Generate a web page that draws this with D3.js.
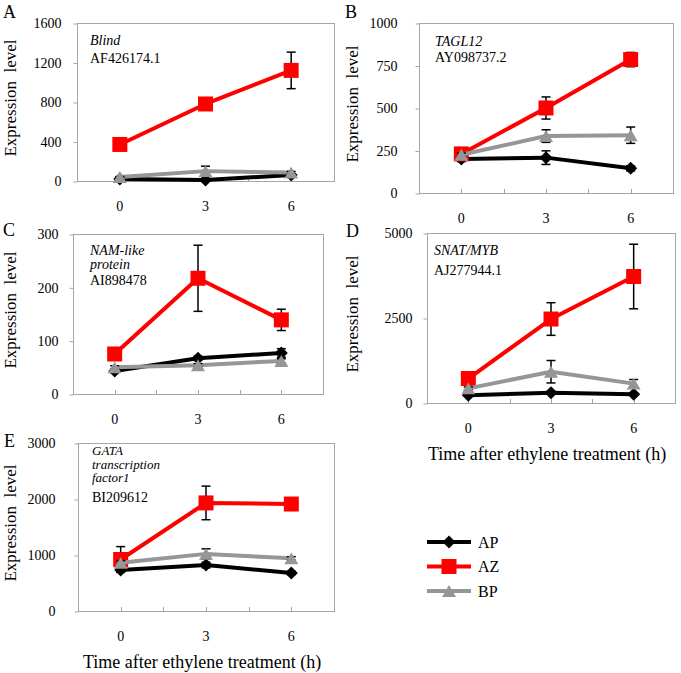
<!DOCTYPE html>
<html>
<head>
<meta charset="utf-8">
<script src="https://cdn.jsdelivr.net/npm/d3@7"></script>
<style>
body { margin: 0; background: #fff; }
svg { font-family: "Liberation Serif", "Times New Roman", serif; }
</style>
</head>
<body>
<script>
const times = ["0", "3", "6"];
const seriesNames = ["AP", "AZ", "BP"];
const seriesColours = ["#000000", "#ff0000", "#969696"];

// rows: AP, AZ, BP ; columns: 0, 3, 6 h
const meanA = [[20, 10, 60], [370, 780, 1120], [40, 100, 85]];
const errA = [[5, 5, 10], [10, 15, 185], [5, 50, 12]];
const ticksA = [0, 400, 800, 1200, 1600];

const meanB = [[200, 208, 145], [230, 500, 785], [225, 335, 340]];
const errB = [[15, 40, 15], [30, 65, 42], [10, 37, 48]];
const ticksB = [0, 250, 500, 750, 1000];

const meanC = [[43, 67, 77], [75, 217, 139], [50, 54, 62]];
const errC = [[3, 4, 8], [4, 62, 20], [3, 3, 4]];
const ticksC = [0, 100, 200, 300];

const meanD = [[230, 300, 260], [720, 2470, 3720], [430, 920, 570]];
const errD = [[30, 40, 30], [60, 480, 950], [40, 330, 120]];
const ticksD = [0, 2500, 5000];

const meanE = [[730, 820, 680], [920, 1930, 1910], [860, 1020, 940]];
const errE = [[30, 50, 30], [230, 300, 70], [40, 90, 30]];
const ticksE = [0, 1000, 2000, 3000];

const panels = [
	{ letter: "A", italic: ["Blind"], acc: "AF426174.1", mean: meanA, err: errA, ticks: ticksA,
		box: [77, 23, 334, 181], pad: 12, label: [3, 18], yTitleX: 16, gene: [90, 45, 18, 63, 14], xTitle: false },
	{ letter: "B", italic: ["TAGL12"], acc: "AY098737.2", mean: meanB, err: errB, ticks: ticksB,
		box: [419, 23, 673, 193], pad: 18, label: [345, 18], yTitleX: 358, gene: [435, 46, 16, 62, 14], xTitle: false },
	{ letter: "C", italic: ["NAM-like", "protein"], acc: "AI898478", mean: meanC, err: errC, ticks: ticksC,
		box: [73, 234, 323, 394], pad: 11, label: [3, 236], yTitleX: 16, gene: [90, 255, 14, 285, 14], xTitle: false },
	{ letter: "D", italic: ["SNAT/MYB"], acc: "AJ277944.1", mean: meanD, err: errD, ticks: ticksD,
		box: [427, 233, 675, 403], pad: 11, label: [346, 237], yTitleX: 358, gene: [434, 255, 19, 275, 14], xTitle: true },
	{ letter: "E", italic: ["GATA", "transcription", "factor1"], acc: "BI209612", mean: meanE, err: errE, ticks: ticksE,
		box: [78, 443, 334, 611], pad: 19, label: [4, 447], yTitleX: 16, gene: [92, 455, 13.5, 502, 13], xTitle: true }
];

const width = 681, height = 673;
const serif = "Liberation Serif, Times New Roman, serif";

const svg = d3.select("body").append("svg")
	.attr("width", width)
	.attr("height", height);

// marker shapes like the spreadsheet ones
const diamond = { draw(ctx, size) { const r = Math.sqrt(size) / 2; ctx.moveTo(0, -r); ctx.lineTo(r, 0); ctx.lineTo(0, r); ctx.lineTo(-r, 0); ctx.closePath(); } };
const square = { draw(ctx, size) { const r = Math.sqrt(size) / 2; ctx.rect(-r, -r, 2 * r, 2 * r); } };
const triangle = { draw(ctx, size) { const r = Math.sqrt(size) / 2; ctx.moveTo(0, -r * 0.85); ctx.lineTo(r, r * 0.85); ctx.lineTo(-r, r * 0.85); ctx.closePath(); } };
const markers = [
	d3.symbol().type(diamond).size(13 * 13),
	d3.symbol().type(square).size(15 * 15),
	d3.symbol().type(triangle).size(14 * 14)
];

function drawPanel(p) {
	const [x0, y0, x1, y1] = p.box;

	const x = d3.scaleBand()
		.domain(times)
		.range([x0, x1]);

	const y = d3.scaleLinear()
		.domain([0, d3.max(p.ticks)])
		.range([y1, y0]);

	const g = svg.append("g");

	g.append("rect")
		.attr("x", x0 + 0.5)
		.attr("y", y0 + 0.5)
		.attr("width", x1 - x0)
		.attr("height", y1 - y0)
		.attr("fill", "none")
		.attr("stroke", "#a6a6a6");

	// y axis
	const yAxis = g.append("g")
		.attr("transform", `translate(${x0 + 0.5},0.5)`)
		.call(d3.axisLeft(y).tickValues(p.ticks).tickSize(4).tickPadding(p.pad).tickFormat(d3.format("d")));
	yAxis.attr("font-family", serif);
	yAxis.select(".domain").remove();
	yAxis.selectAll("line").attr("stroke", "#a6a6a6");
	yAxis.selectAll("text")
		.attr("font-size", 14)
		.attr("fill", "#000");

	// x axis, inner ticks at categories and between them
	const xAxis = g.append("g")
		.attr("transform", `translate(0,${y1 + 0.5})`)
		.call(d3.axisBottom(x).tickSize(0).tickPadding(20));
	xAxis.attr("font-family", serif);
	xAxis.select(".domain").remove();
	xAxis.selectAll("text")
		.attr("font-size", 14)
		.attr("fill", "#000");

	const tickPos = [];
	times.forEach((t, i) => {
		tickPos.push(x(t) + x.bandwidth() / 2);
		if (i > 0) tickPos.push(x(t));
	});
	g.selectAll("line.xt")
		.data(tickPos)
		.enter()
		.append("line")
		.attr("class", "xt")
		.attr("stroke", "#a6a6a6")
		.attr("x1", d => Math.round(d) + 0.5)
		.attr("x2", d => Math.round(d) + 0.5)
		.attr("y1", y1)
		.attr("y2", y1 - 4);

	// series
	const cx = t => x(t) + x.bandwidth() / 2;
	seriesNames.forEach((name, s) => {
		const vals = times.map((t, i) => ({ t: t, v: p.mean[s][i], e: p.err[s][i] }));

		g.append("path")
			.datum(vals)
			.attr("fill", "none")
			.attr("stroke", seriesColours[s])
			.attr("stroke-width", 4)
			.attr("stroke-linejoin", "round")
			.attr("d", d3.line().x(d => cx(d.t)).y(d => y(d.v)));

		const eb = g.append("g")
			.attr("stroke", "#000")
			.attr("stroke-width", 1.5)
			.selectAll("g")
			.data(vals)
			.enter()
			.append("g");
		eb.append("line")
			.attr("x1", d => cx(d.t))
			.attr("x2", d => cx(d.t))
			.attr("y1", d => y(d.v - d.e))
			.attr("y2", d => y(d.v + d.e));
		eb.append("line")
			.attr("x1", d => cx(d.t) - 4.5)
			.attr("x2", d => cx(d.t) + 4.5)
			.attr("y1", d => y(d.v + d.e))
			.attr("y2", d => y(d.v + d.e));
		eb.append("line")
			.attr("x1", d => cx(d.t) - 4.5)
			.attr("x2", d => cx(d.t) + 4.5)
			.attr("y1", d => y(d.v - d.e))
			.attr("y2", d => y(d.v - d.e));

		g.selectAll(`path.m${s}`)
			.data(vals)
			.enter()
			.append("path")
			.attr("class", `m${s}`)
			.attr("fill", seriesColours[s])
			.attr("transform", d => `translate(${cx(d.t)},${y(d.v)})`)
			.attr("d", markers[s]);
	});

	// texts
	g.append("text")
		.attr("x", p.label[0])
		.attr("y", p.label[1])
		.attr("font-size", 18)
		.text(p.letter);

	g.append("text")
		.attr("transform", `translate(${p.yTitleX},${(y0 + y1) / 2 - 4}) rotate(-90)`)
		.attr("text-anchor", "middle")
		.attr("font-size", 17)
		.style("white-space", "pre")
		.text("Expression  level");

	const [gx, gy, gdy, accY, gfs] = p.gene;
	p.italic.forEach((line, i) => {
		g.append("text")
			.attr("x", gx)
			.attr("y", gy + i * gdy)
			.attr("font-size", gfs)
			.attr("font-style", "italic")
			.text(line);
	});
	g.append("text")
		.attr("x", gx)
		.attr("y", accY)
		.attr("font-size", 14)
		.text(p.acc);

	if (p.xTitle) {
		g.append("text")
			.attr("x", (x0 + x1) / 2 - 4)
			.attr("y", y1 + 57)
			.attr("text-anchor", "middle")
			.attr("font-size", 18)
			.text("Time after ethylene treatment (h)");
	}
}

panels.forEach(drawPanel);

// legend
const ly = d3.scalePoint()
	.domain(seriesNames)
	.range([542, 591]);

const lg = svg.append("g")
	.selectAll("g")
	.data(seriesNames)
	.enter()
	.append("g");

lg.append("line")
	.attr("x1", 427)
	.attr("x2", 471)
	.attr("y1", d => ly(d))
	.attr("y2", d => ly(d))
	.attr("stroke", (d, i) => seriesColours[i])
	.attr("stroke-width", 4);

lg.append("path")
	.attr("transform", d => `translate(449,${ly(d)})`)
	.attr("fill", (d, i) => seriesColours[i])
	.attr("d", (d, i) => markers[i]());

lg.append("text")
	.attr("x", 478)
	.attr("y", d => ly(d))
	.attr("dy", "0.35em")
	.attr("font-size", 16)
	.text(d => d);
</script>
</body>
</html>
